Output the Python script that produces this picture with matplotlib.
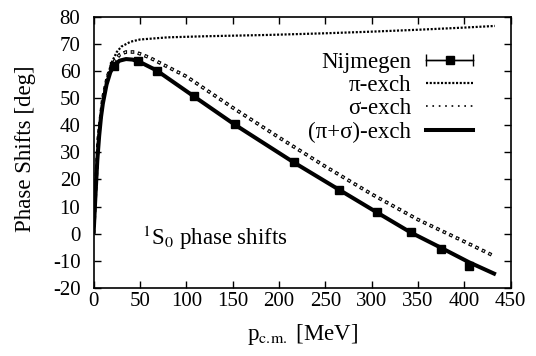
import matplotlib
matplotlib.use('Agg')
import matplotlib.pyplot as plt
from matplotlib.lines import Line2D
from matplotlib.legend_handler import HandlerLine2D
import numpy as np

plt.rcParams['font.family'] = ['Liberation Serif', 'DejaVu Serif']
plt.rcParams['mathtext.fontset'] = 'stix'
plt.rcParams['axes.unicode_minus'] = False
plt.rcParams['lines.scale_dashes'] = False

# Nijmegen PWA points
p_nij = [21.7, 48.4, 68.5, 108.5, 153.0, 216.6, 265.2, 306.2, 342.5, 375.1, 405.5]
d_nij = [62.0, 63.5, 60.0, 50.7, 40.3, 26.3, 16.2, 7.9, 0.7, -5.7, -11.8]
e_nij = [0.1, 0.1, 0.1, 0.2, 0.2, 0.3, 0.4, 0.5, 0.6, 0.9, 1.2]

# pi exchange only
p_pi = [0, 2, 5, 10, 15, 20, 25, 30, 40, 50, 80, 120, 190, 250, 300, 350, 400, 433]
d_pi = [0, 15, 35, 50, 58, 63.5, 67, 69, 70.8, 71.6, 72.4, 72.8, 73.3, 73.9, 74.5, 75.2, 76.0, 76.6]

# sigma exchange only
p_sig = [0, 2, 5, 10, 15, 20, 28, 35, 45, 60, 80, 100, 150, 200, 250, 300, 350, 400, 432]
d_sig = [0, 15, 35, 50, 58, 62.5, 66, 67, 67, 65, 61.5, 58, 46.5, 35.5, 24.8, 14.6, 5.2, -2.9, -8.2]

# pi + sigma
p_tot = [0, 2, 4, 6, 8, 10, 14, 18, 22, 28, 35, 42, 50, 68, 108, 152, 216, 265, 306, 342, 375, 405, 434]
d_tot = [0, 14, 27, 36, 43, 48, 55, 59.5, 62, 63.8, 64.4, 64.2, 63.3, 60.2, 50.7, 40.3, 26.3, 16.2,
         7.8, 0.5, -5.2, -10.5, -15]

labels = ['Nijmegen', 'π-exch', 'σ-exch', '(π+σ)-exch']

fig = plt.figure(figsize=(5.36, 3.56), dpi=100)
ax = fig.add_axes([0.1746, 0.191, 0.7782, 0.762])

pi_style = (0, (1.5, 1.2))
ax.plot(p_pi, d_pi, color='black', lw=1.6, linestyle=pi_style)
# hollow dashes for sigma curve
ax.plot(p_sig, d_sig, color='black', lw=2.6, linestyle=(0, (2.6, 2.6)), dash_capstyle='butt')
ax.plot(p_sig, d_sig, color='white', lw=0.9, linestyle=(4.5, (1.2, 4.0)), dash_capstyle='butt')
ax.plot(p_tot, d_tot, color='black', lw=2.9, solid_capstyle='butt')
ax.errorbar(p_nij, d_nij, yerr=e_nij, fmt='s', color='black', ms=5.5, capsize=2, elinewidth=1)

ax.set_xlim(0, 450)
ax.set_ylim(-20, 80)
ax.set_xticks(np.arange(0, 451, 50))
ax.set_yticks(np.arange(-20, 81, 10))
ax.tick_params(direction='in', top=True, right=True, length=5, width=1, labelsize=15)
ax.tick_params(axis='x', pad=3)
ax.tick_params(axis='y', pad=9.5)
for s in ax.spines.values():
    s.set_linewidth(1.2)

ax.set_xlabel(r'p$_{\rm c.\!m.}$ [MeV]', fontsize=16.5)
ax.xaxis.set_label_coords(0.5, -0.125)
ax.set_ylabel('Phase Shifts [deg]', fontsize=16.5)
ax.yaxis.set_label_coords(-0.137, 0.515)
ax.text(52, -4.3, r'$^{1}$S$_{0}$ phase shifts', fontsize=16.5, va='baseline')

h_caps = Line2D([], [], color='black', lw=1, marker='|', ms=8, mew=1)
h_sq = Line2D([], [], color='black', lw=1, marker='s', ms=6)
h_pi = Line2D([], [], color='black', lw=1.6, linestyle=pi_style)
h_sig = Line2D([], [], color='black', lw=1.2, linestyle=(0, (1.2, 3.4)))
h_tot = Line2D([], [], color='black', lw=2.9)
leg = ax.legend([(h_caps, h_sq), h_pi, h_sig, h_tot], labels,
                handler_map={h_caps: HandlerLine2D(numpoints=2, marker_pad=0),
                             h_sq: HandlerLine2D(numpoints=1)},
                loc='upper right', bbox_to_anchor=(473 / 536, 1 - 51.5 / 356),
                bbox_transform=fig.transFigure, frameon=False, markerfirst=False,
                fontsize=16.5, handlelength=2.04, labelspacing=0.1, handletextpad=0.65,
                borderpad=0, borderaxespad=0, alignment='right')

fig.savefig('out.png', dpi=100)
